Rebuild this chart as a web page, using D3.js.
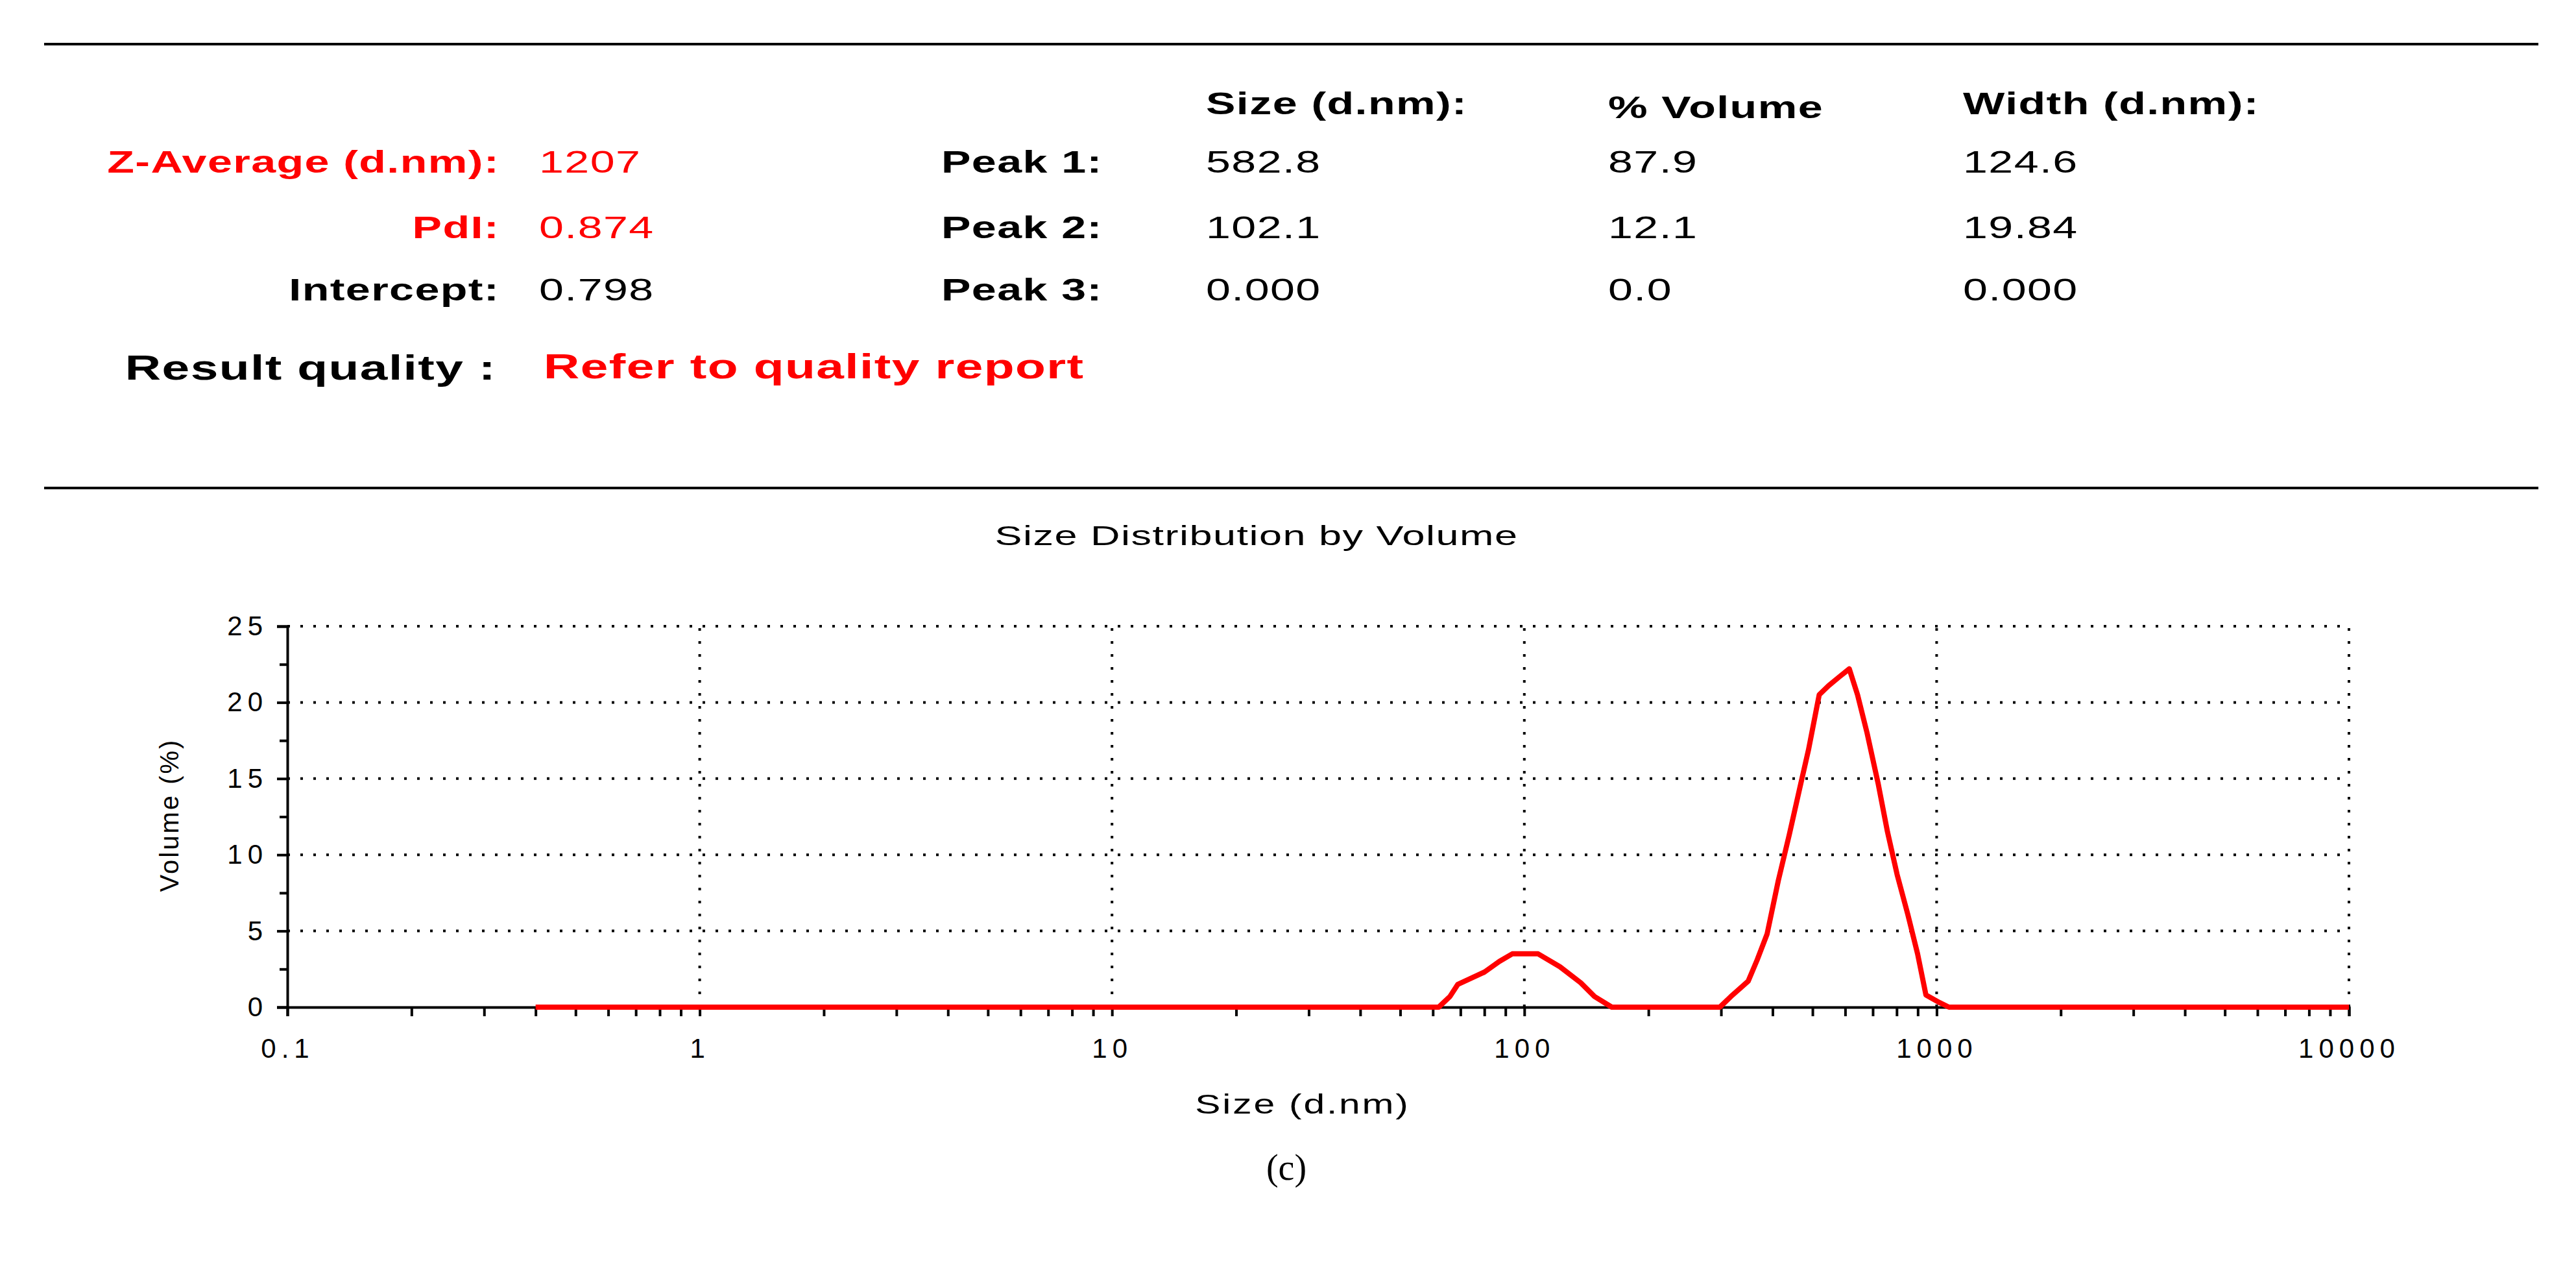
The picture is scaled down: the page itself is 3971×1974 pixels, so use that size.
<!DOCTYPE html>
<html><head><meta charset="utf-8">
<script src="https://cdn.jsdelivr.net/npm/d3@7"></script>
<style>body{margin:0;background:#fff}</style>
</head><body>
<svg id="c" width="3971" height="1974"></svg>
<script>
// size (d.nm) and volume (%)
const sizes = [0.4, 62, 66, 69, 80, 87, 93.5, 108, 122, 137, 148, 163, 298, 317, 349, 367, 388, 413, 439, 465, 489, 519, 547, 582, 614, 643, 678, 721, 760, 802, 851, 899, 942, 1016, 1071, 10000];
const volumes = [0, 0, 0.7, 1.5, 2.3, 3.0, 3.5, 3.5, 2.65, 1.6, 0.7, 0, 0, 0.7, 1.7, 3.1, 4.8, 8.3, 11.3, 14.3, 16.9, 20.5, 21.1, 21.7, 22.2, 20.5, 18, 14.7, 11.5, 8.7, 6.1, 3.5, 0.8, 0.3, 0, 0];
const xTicks = [0.1, 1, 10, 100, 1000, 10000];
const yTicks = [0, 5, 10, 15, 20, 25];

const leftRows = [["Z-Average (d.nm):", "1207", "red"], ["PdI:", "0.874", "red"], ["Intercept:", "0.798", "black"]];
const peakRows = [["Peak 1:", "582.8", "87.9", "124.6"], ["Peak 2:", "102.1", "12.1", "19.84"], ["Peak 3:", "0.000", "0.0", "0.000"]];
const headers = ["Size (d.nm):", "% Volume", "Width (d.nm):"];

const svg = d3.select("#c");
const F = "Liberation Sans, Arial, sans-serif";
const SX = 1.42;

svg.append("line").attr("x1", 68).attr("x2", 3913).attr("y1", 68).attr("y2", 68).attr("stroke", "#000").attr("stroke-width", 4);
svg.append("line").attr("x1", 68).attr("x2", 3913).attr("y1", 752).attr("y2", 752).attr("stroke", "#000").attr("stroke-width", 4);

// wide text: the reference font is stretched horizontally
const txt = (x, y, s, o = {}) => svg.append("text")
  .attr("transform", `translate(${x},${y}) scale(${o.sx || SX},1)`)
  .attr("font-family", F).attr("font-size", o.size || 48).attr("font-weight", o.bold ? "bold" : "normal")
  .attr("fill", o.fill || "#000").attr("letter-spacing", o.ls || 1)
  .attr("text-anchor", o.anchor || "start").text(s);

const rowY = [266, 367, 463];
const colX = [1859, 2479, 3026];
headers.forEach((h, i) => txt(colX[i], i == 1 ? 182 : 176, h, { bold: true }));
leftRows.forEach((r, i) => {
  txt(770, rowY[i], r[0], { bold: true, anchor: "end", fill: r[2] });
  txt(831, rowY[i], r[1], { fill: r[2] });
});
peakRows.forEach((r, i) => {
  txt(1451, rowY[i], r[0], { bold: true });
  r.slice(1).forEach((v, j) => txt(colX[j], rowY[i], v));
});
txt(765, 585, "Result quality :", { bold: true, anchor: "end", size: 54 });
txt(838, 583, "Refer to quality report", { bold: true, size: 54, fill: "red" });

txt(1937, 840, "Size Distribution by Volume", { size: 42, anchor: "middle", sx: 1.5 });

const x = d3.scaleLog().domain([0.1, 10000]).range([443, 3621]);
const y = d3.scaleLinear().domain([0, 25]).range([1552, 965]);

// grid
const g = svg.append("g").attr("stroke", "#000").attr("stroke-width", 4).attr("stroke-dasharray", "4 16");
yTicks.slice(1).forEach(t => g.append("line").attr("x1", x(0.1)).attr("x2", x(10000)).attr("y1", y(t)).attr("y2", y(t)));
xTicks.slice(1).forEach(t => g.append("line").attr("x1", x(t)).attr("x2", x(t)).attr("y1", y(0)).attr("y2", y(25)));

// axes
const minor = [];
for (let d = 0.1; d < 10000; d *= 10) for (let k = 2; k < 10; k++) minor.push(d * k);
svg.append("g").attr("transform", `translate(0,${y(0)})`)
  .call(d3.axisBottom(x).tickValues(xTicks).tickFormat(d => String(d)).tickSize(14).tickPadding(34));
svg.append("g").attr("transform", `translate(0,${y(0)})`)
  .call(d3.axisBottom(x).tickValues(minor).tickFormat("").tickSize(14)).select(".domain").remove();
svg.append("g").attr("transform", `translate(${x(0.1)},0)`)
  .call(d3.axisLeft(y).tickValues(yTicks).tickSize(16).tickPadding(14));
svg.append("g").attr("transform", `translate(${x(0.1)},0)`)
  .call(d3.axisLeft(y).tickValues(d3.range(2.5, 25, 5)).tickFormat("").tickSize(12)).select(".domain").remove();
svg.selectAll(".domain").attr("stroke-width", 4);
svg.selectAll(".tick line").attr("stroke-width", 4);
svg.selectAll(".tick text").attr("font-family", F).attr("font-size", 42).attr("fill", "#000").attr("letter-spacing", 8);

txt(2008, 1716, "Size (d.nm)", { size: 42, anchor: "middle", sx: 1.4, ls: 2 });
svg.append("text").attr("transform", "translate(275,1256) rotate(-90)").attr("text-anchor", "middle")
  .attr("font-family", F).attr("font-size", 40).attr("letter-spacing", 3).text("Volume (%)");

svg.append("path").datum(sizes.map((s, i) => [s, volumes[i]]))
  .attr("fill", "none").attr("stroke", "red").attr("stroke-width", 8).attr("stroke-linejoin", "round")
  .attr("d", d3.line().x(d => x(d[0])).y(d => y(d[1])));

svg.append("text").attr("x", 1983).attr("y", 1818).attr("text-anchor", "middle")
  .attr("font-family", "Liberation Serif, serif").attr("font-size", 56).text("(c)");
</script>
</body></html>
